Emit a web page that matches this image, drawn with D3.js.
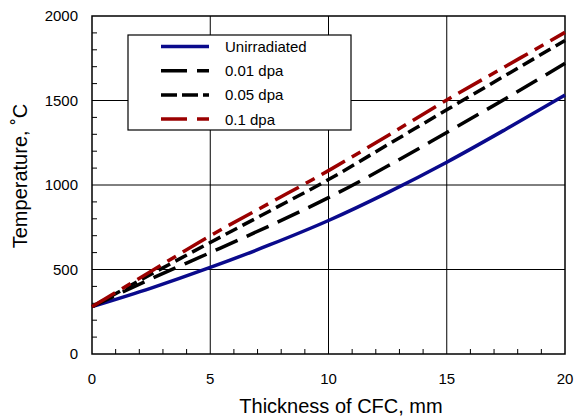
<!DOCTYPE html>
<html>
<head>
<meta charset="utf-8">
<script src="https://cdn.jsdelivr.net/npm/d3@7"></script>
<style>
  body { margin: 0; background: #fff; }
  text { font-family: "Liberation Sans", Arial, sans-serif; fill: #000; }
</style>
</head>
<body>
<svg id="chart"></svg>
<script>
// Data
const thickness = [0, 2.5, 5, 7.5, 10, 12.5, 15, 17.5, 20];
const unirradiated = [280, 390, 512, 645, 790, 955, 1135, 1330, 1532];
const dpa001 = [280, 445, 600, 758, 925, 1112, 1311, 1512, 1720];
const dpa005 = [280, 472, 660, 845, 1032, 1238, 1445, 1650, 1855];
const dpa01 = [280, 490, 700, 892, 1085, 1292, 1503, 1703, 1903];

const seriesNames = ["Unirradiated", "0.01 dpa", "0.05 dpa", "0.1 dpa"];
const xTicks = [0, 5, 10, 15, 20];
const yTicks = [0, 500, 1000, 1500, 2000];

const width = 574, height = 417;
const margin = {top: 16, right: 9, bottom: 63, left: 92};

const svg = d3.select("#chart")
  .attr("width", width)
  .attr("height", height);

const x = d3.scaleLinear().domain([0, 20]).range([margin.left, width - margin.right]);
const y = d3.scaleLinear().domain([0, 2000]).range([height - margin.bottom, margin.top]);

// styles per series
const styles = [
  {color: "#0a0a8c", dash: null},
  {color: "#000000", dash: "24,10"},
  {color: "#000000", dash: "13,6"},
  {color: "#9b0000", dash: "27,8,10,8"}
];
const allSeries = [unirradiated, dpa001, dpa005, dpa01];

// grid lines
svg.append("g")
  .selectAll("line")
  .data(xTicks.slice(1, -1))
  .join("line")
  .attr("x1", d => x(d)).attr("x2", d => x(d))
  .attr("y1", y(0)).attr("y2", y(2000))
  .attr("stroke", "#000").attr("stroke-width", 1);

svg.append("g")
  .selectAll("line")
  .data(yTicks.slice(1, -1))
  .join("line")
  .attr("x1", x(0)).attr("x2", x(20))
  .attr("y1", d => y(d)).attr("y2", d => y(d))
  .attr("stroke", "#000").attr("stroke-width", 1);

// minor ticks (inside)
svg.append("g")
  .selectAll("line")
  .data(d3.range(100, 2000, 100).filter(d => d % 500 !== 0))
  .join("line")
  .attr("x1", x(0)).attr("x2", x(0) + 5)
  .attr("y1", d => y(d)).attr("y2", d => y(d))
  .attr("stroke", "#000").attr("stroke-width", 1);

svg.append("g")
  .selectAll("line")
  .data(d3.range(1, 20, 1).filter(d => d % 5 !== 0))
  .join("line")
  .attr("x1", d => x(d)).attr("x2", d => x(d))
  .attr("y1", y(0)).attr("y2", y(0) - 5)
  .attr("stroke", "#000").attr("stroke-width", 1);

// frame
svg.append("rect")
  .attr("x", x(0)).attr("y", y(2000))
  .attr("width", x(20) - x(0)).attr("height", y(0) - y(2000))
  .attr("fill", "none").attr("stroke", "#000").attr("stroke-width", 1.5);

// lines
const line = d3.line()
  .x((d, i) => x(thickness[i]))
  .y(d => y(d))
  .curve(d3.curveMonotoneX);

svg.append("g")
  .selectAll("path")
  .data(allSeries)
  .join("path")
  .attr("d", d => line(d))
  .attr("fill", "none")
  .attr("stroke", (d, i) => styles[i].color)
  .attr("stroke-width", 3.5)
  .attr("stroke-dasharray", (d, i) => styles[i].dash);

// tick labels
svg.append("g")
  .selectAll("text")
  .data(yTicks)
  .join("text")
  .attr("x", 78)
  .attr("y", d => y(d))
  .attr("dy", "0.36em")
  .attr("text-anchor", "end")
  .style("font-size", "15px")
  .text(d => d);

svg.append("g")
  .selectAll("text")
  .data(xTicks)
  .join("text")
  .attr("x", d => x(d))
  .attr("y", 384)
  .attr("text-anchor", "middle")
  .style("font-size", "15px")
  .text(d => d);

// axis titles
svg.append("text")
  .attr("x", 341)
  .attr("y", 413)
  .attr("text-anchor", "middle")
  .style("font-size", "20px")
  .text("Thickness of CFC, mm");

svg.append("text")
  .attr("transform", "translate(27,176) rotate(-90)")
  .attr("text-anchor", "middle")
  .style("font-size", "20px")
  .text("Temperature, ˚C");

// legend
const legend = svg.append("g");
legend.append("rect")
  .attr("x", 128).attr("y", 35)
  .attr("width", 223).attr("height", 95)
  .attr("fill", "#fff").attr("stroke", "#000").attr("stroke-width", 1.2);

const rows = legend.selectAll("g")
  .data(seriesNames)
  .join("g")
  .attr("transform", (d, i) => `translate(0, ${46.5 + i * 24.2})`);

rows.append("line")
  .attr("x1", 161).attr("x2", 209)
  .attr("stroke", (d, i) => styles[i].color)
  .attr("stroke-width", 3.5)
  .attr("stroke-dasharray", (d, i) => styles[i].dash ? (i === 2 ? "16,5" : "26,10") : null);

rows.append("text")
  .attr("x", 225)
  .attr("dy", "0.36em")
  .style("font-size", "15px")
  .text(d => d);
</script>
</body>
</html>
